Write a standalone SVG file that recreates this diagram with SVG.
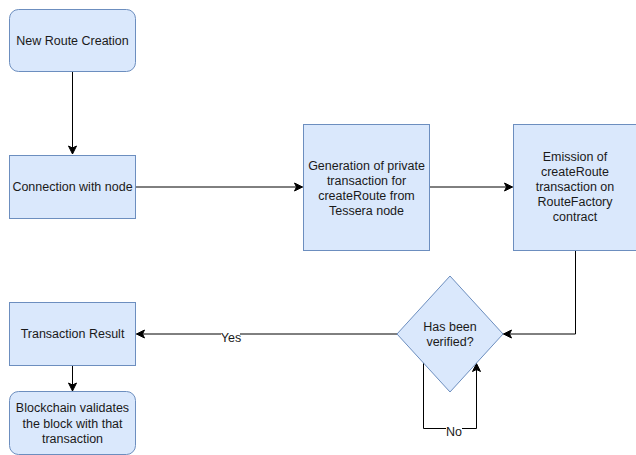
<svg xmlns="http://www.w3.org/2000/svg" width="636" height="455" viewBox="0 0 636 455">
  <style>
    .box { fill: #dae8fc; stroke: #6c8ebf; stroke-width: 1; }
    .lbl { font-family: "Liberation Sans", Arial, sans-serif; font-size: 12.5px; fill: #1a1a1a; text-anchor: middle; }
    .edge { fill: none; stroke: #000; stroke-width: 1; }
    .bg { fill: #fff; }
  </style>
  <defs>
    <marker id="arrow" markerUnits="userSpaceOnUse" viewBox="-10 -6 12 12" refX="0" refY="0" markerWidth="12" markerHeight="12" orient="auto">
      <path d="M0,0 L-8,-4 L-6,0 L-8,4 Z" fill="#000" stroke="#000" stroke-width="1" stroke-linejoin="miter"/>
    </marker>
  </defs>
  <rect width="636" height="455" fill="#fff"/>

  <g id="connectors">
    <path class="edge" d="M72.5,72 L72.5,154" marker-end="url(#arrow)"/>
    <path class="edge" d="M135.5,187 L302.5,187" marker-end="url(#arrow)"/>
    <path class="edge" d="M429.5,187 L512.5,187" marker-end="url(#arrow)"/>
    <path class="edge" d="M575.5,250.5 L575.5,334 L503.5,334" marker-end="url(#arrow)"/>
    <path class="edge" d="M397.5,334 L136.5,334" marker-end="url(#arrow)"/>
    <path class="edge" d="M72.5,366 L72.5,391" marker-end="url(#arrow)"/>
    <path class="edge" d="M423.5,362.5 L423.5,428.5 L476.5,428.5 L476.5,363.5" marker-end="url(#arrow)"/>
    <rect class="bg" x="221" y="330" width="19" height="13"/>
    <text class="lbl" x="231" y="341.5">Yes</text>
    <rect class="bg" x="446" y="424" width="16" height="13"/>
    <text class="lbl" x="454" y="436">No</text>
  </g>

  <g id="new-route">
    <rect class="box" x="9.5" y="9.5" width="126" height="62" rx="9" ry="9"/>
    <text class="lbl" x="72.5" y="44.5">New Route Creation</text>
  </g>

  <g id="connection">
    <rect class="box" x="9.5" y="155.5" width="126" height="63"/>
    <text class="lbl" x="72.5" y="191">Connection with node</text>
  </g>

  <g id="generation">
    <rect class="box" x="303.5" y="124.5" width="126" height="126"/>
    <text class="lbl" x="366.5" y="169.5">Generation of private</text>
    <text class="lbl" x="366.5" y="184.5">transaction for</text>
    <text class="lbl" x="366.5" y="199.5">createRoute from</text>
    <text class="lbl" x="366.5" y="214.5">Tessera node</text>
  </g>

  <g id="emission">
    <rect class="box" x="513.5" y="124.5" width="126" height="126"/>
    <text class="lbl" x="575" y="161">Emission of</text>
    <text class="lbl" x="575" y="176">createRoute</text>
    <text class="lbl" x="575" y="191">transaction on</text>
    <text class="lbl" x="575" y="206">RouteFactory</text>
    <text class="lbl" x="575" y="221">contract</text>
  </g>

  <g id="verified">
    <path class="box" d="M450,276 L503,334 L450,392 L397,334 Z"/>
    <text class="lbl" x="450" y="331">Has been</text>
    <text class="lbl" x="450" y="346">verified?</text>
  </g>

  <g id="result">
    <rect class="box" x="9.5" y="302.5" width="126" height="63"/>
    <text class="lbl" x="72.5" y="338">Transaction Result</text>
  </g>

  <g id="blockchain">
    <rect class="box" x="9.5" y="391.5" width="126" height="63" rx="9" ry="9"/>
    <text class="lbl" x="72.5" y="412">Blockchain validates</text>
    <text class="lbl" x="72.5" y="427.5">the block with that</text>
    <text class="lbl" x="72.5" y="442.5">transaction</text>
  </g>
</svg>
